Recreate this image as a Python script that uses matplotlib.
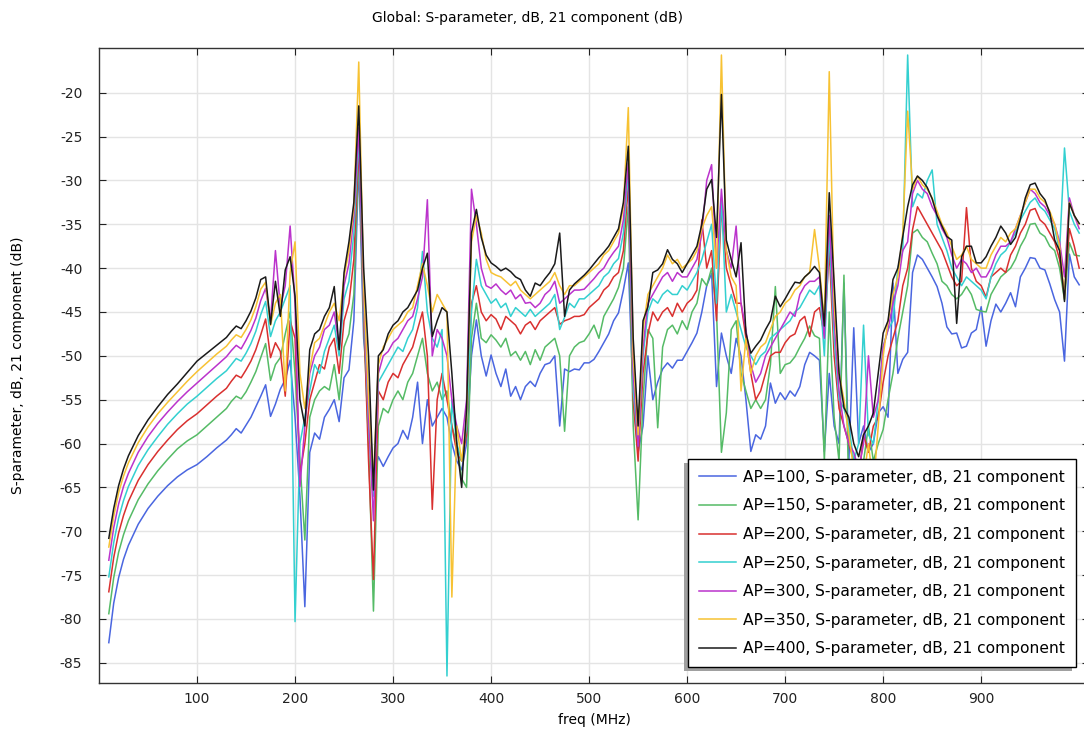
import matplotlib
matplotlib.use("Agg")
import matplotlib.pyplot as plt
from matplotlib.patches import Rectangle

freq_mhz = [10, 15, 20, 25, 30, 40, 50, 60, 70, 80, 90, 100, 110, 120, 130, 135, 140, 145] + list(range(150, 1001, 5))

ap100 = [-82.7, -78.2, -75.3, -73.2, -71.6, -69.2, -67.4, -66.0, -64.8, -63.8, -63.0, -62.4, -61.5, -60.5, -59.6, -59.0, -58.3, -58.8,
         -57.9, -57.0, -55.8, -54.6, -53.3, -56.9, -55.5, -53.8, -52.7, -50.5,
         -57.0, -66.0, -78.6, -61.0, -58.8, -59.5, -57.0, -56.1, -55.0, -57.5,
         -52.5, -51.6, -46.0, -28.0, -48.0, -55.0, -63.9, -61.5, -62.6, -61.5,
         -60.5, -60.0, -58.5, -59.5, -57.0, -53.0, -60.0, -55.0, -58.0, -57.0,
         -56.0, -57.0, -60.0, -62.0, -63.0, -60.0, -50.0, -45.9, -50.0, -52.3,
         -49.9, -52.0, -53.5, -51.5, -54.6, -53.5, -55.0, -53.5, -52.9, -53.5,
         -52.0, -51.0, -50.8, -50.0, -58.0, -51.5, -51.8, -51.5, -51.6, -50.8,
         -50.8, -50.4, -49.5, -48.5, -47.5, -46.0, -45.1, -42.5, -39.4, -55.0,
         -61.0, -58.0, -50.0, -55.0, -53.0, -51.5, -50.8, -51.4, -50.5, -50.5,
         -49.5, -48.5, -47.4, -45.0, -42.0, -40.6, -53.5, -47.4, -50.0, -52.0,
         -48.0, -50.0, -55.0, -60.9, -59.0, -59.5, -58.0, -53.1, -55.4, -54.2,
         -55.0, -54.0, -54.6, -53.5, -51.0, -49.6, -50.0, -50.5, -60.9, -52.0,
         -58.0, -60.0, -41.7, -62.0, -46.8, -60.0, -58.0, -61.0, -60.0, -56.5,
         -55.8, -57.0, -41.7, -52.0, -50.4, -49.6, -40.5, -38.5, -39.0, -40.0,
         -41.0, -42.1, -44.0, -46.7, -47.5, -47.4, -49.1, -48.9, -47.4, -47.0,
         -44.4, -48.9, -46.0, -44.1, -45.0, -44.0, -42.8, -44.4, -41.0, -40.0,
         -38.8, -38.9, -40.0, -40.2, -41.8, -43.6, -45.0, -50.6, -38.4, -41.0,
         -41.9]

ap150 = [-79.4, -75.3, -72.4, -70.4, -68.8, -66.4, -64.6, -63.1, -61.8, -60.6, -59.7, -59.0, -58.0, -57.0, -56.0, -55.2, -54.6, -54.9,
         -54.1, -53.0, -51.8, -50.2, -48.6, -52.8, -51.0, -50.2, -47.5, -45.0,
         -52.0, -62.0, -71.0, -57.0, -55.0, -54.0, -53.5, -53.9, -51.0, -55.0,
         -49.0, -47.5, -43.0, -27.0, -46.0, -60.0, -79.1, -58.0, -56.0, -56.5,
         -55.0, -54.0, -55.0, -53.0, -52.0, -50.0, -48.0, -52.0, -54.0, -53.0,
         -55.0, -54.0, -58.0, -60.0, -64.0, -65.0, -48.0, -44.0, -48.0, -48.5,
         -47.6, -48.2, -49.0, -48.0, -50.0, -49.5, -50.5, -49.5, -51.0, -49.3,
         -50.5, -49.0, -48.5, -48.0, -50.0, -58.6, -50.0, -49.0, -48.5, -48.3,
         -47.5, -46.5, -48.0, -45.5, -44.5, -43.5, -42.2, -40.0, -33.0, -58.0,
         -68.7, -55.0, -47.0, -48.0, -58.2, -49.0, -47.0, -46.5, -47.5, -46.0,
         -47.0, -45.0, -44.0, -41.2, -42.0, -40.0, -45.0, -61.0, -56.5, -47.0,
         -46.0, -52.0, -54.0, -56.0, -55.0, -56.0, -55.0, -51.0, -42.1, -52.0,
         -51.0, -50.8, -50.1, -49.0, -48.0, -46.6, -47.7, -48.0, -62.0, -45.0,
         -57.0, -62.0, -40.8, -66.0, -63.0, -65.0, -62.0, -58.0, -62.0, -60.0,
         -58.4, -55.0, -52.0, -48.0, -45.0, -42.0, -36.0, -35.6, -36.5, -37.0,
         -38.3, -39.5, -41.5, -42.0, -43.0, -43.5, -43.0, -42.1, -43.0, -44.7,
         -44.9, -45.0, -43.0, -42.0, -41.0, -40.5, -40.0, -39.0, -37.5, -36.5,
         -35.0, -34.9, -36.0, -36.4, -37.5, -38.0, -40.0, -43.6, -37.1, -38.5,
         -38.6]

ap200 = [-76.9, -73.0, -70.2, -68.2, -66.6, -64.2, -62.4, -60.9, -59.6, -58.4, -57.4, -56.6, -55.6, -54.6, -53.7, -52.9, -52.2, -52.5,
         -51.6, -50.6, -49.3, -47.6, -45.8, -50.2, -48.5, -49.5, -54.6, -46.0,
         -48.0, -63.5, -60.0, -55.0, -53.0, -51.0, -51.5, -49.0, -48.0, -52.0,
         -46.0, -44.0, -39.0, -26.0, -45.0, -62.0, -75.5, -54.0, -55.0, -53.0,
         -52.0, -52.5, -51.0, -50.0, -49.0, -47.0, -45.0, -50.0, -67.5, -55.0,
         -52.0, -55.0, -58.0, -61.0, -62.0, -59.0, -44.0, -42.0, -45.0, -46.0,
         -45.3, -45.8, -47.0, -45.5, -46.0, -46.5, -47.5, -46.5, -46.1, -47.0,
         -46.0, -45.5, -45.0, -44.5, -46.4, -46.0, -45.8, -45.5, -45.5, -45.3,
         -44.5, -44.0, -43.5, -42.5, -42.0, -41.0, -40.5, -38.0, -30.5, -55.0,
         -62.0, -52.0, -47.5, -45.0, -46.0, -45.0, -44.5, -45.5, -44.0, -45.0,
         -44.0, -43.5, -42.5, -34.5, -40.0, -38.0, -46.0, -33.0, -40.0, -42.0,
         -44.0, -44.0, -48.0, -52.0, -55.0, -54.0, -52.0, -50.0, -49.6, -49.6,
         -48.5, -47.8, -47.5, -46.0, -45.5, -47.8, -45.0, -44.5, -47.8, -37.9,
         -50.0, -56.0, -58.0, -60.0, -62.0, -64.0, -59.0, -61.0, -58.0, -57.0,
         -53.0, -50.0, -48.0, -46.0, -42.0, -40.0, -35.6, -33.0, -34.0, -35.0,
         -36.0, -37.0, -38.0, -39.5, -41.0, -42.0, -41.5, -33.1, -40.0, -41.5,
         -42.0, -43.3, -41.0, -40.5, -40.0, -40.5, -38.5, -37.5, -36.0, -35.0,
         -33.4, -33.2, -34.5, -35.0, -36.0, -37.0, -39.0, -43.0, -35.5, -37.5,
         -40.0]

ap250 = [-75.2, -71.3, -68.5, -66.5, -64.9, -62.5, -60.7, -59.2, -57.8, -56.6, -55.5, -54.6, -53.6, -52.6, -51.7, -51.0, -50.3, -50.6,
         -49.7, -48.6, -47.2, -45.3, -43.8, -47.8, -46.0, -45.0, -43.5, -42.0,
         -80.3, -60.0, -57.0, -54.0, -51.0, -52.0, -49.5, -48.0, -46.5, -50.0,
         -43.5, -41.5, -36.0, -25.0, -44.0, -58.0, -66.0, -53.0, -52.0, -51.0,
         -50.0, -49.0, -49.5, -48.0, -47.0, -44.5, -38.1, -45.0, -48.0, -49.0,
         -47.0, -86.5, -55.0, -60.0, -62.0, -58.0, -45.0, -39.0, -42.0, -43.0,
         -44.0, -43.5, -44.5, -44.0, -45.5, -44.5, -45.0, -45.5, -44.7, -45.5,
         -45.0, -44.5, -44.0, -43.0, -47.0, -45.6, -44.0, -44.5, -43.5, -43.5,
         -43.0, -42.5, -42.0, -41.0, -40.5, -39.5, -38.9, -36.0, -29.0, -54.0,
         -60.0, -50.0, -45.0, -43.5, -44.0, -43.0, -42.5, -43.0, -43.0, -42.0,
         -42.5, -41.5, -40.5, -39.0, -37.0, -35.0, -44.0, -32.0, -45.0, -43.0,
         -45.0, -47.0, -49.0, -50.0, -51.0, -50.0, -49.5, -48.0, -47.5, -47.0,
         -46.5, -46.0, -45.0, -44.5, -43.5, -42.5, -43.0, -42.0, -50.0, -36.0,
         -48.0, -55.0, -56.0, -58.0, -62.0, -60.0, -46.5, -59.0, -60.0, -55.0,
         -49.0, -47.0, -46.0, -40.0, -38.0, -15.7, -33.0, -31.5, -32.0, -30.0,
         -28.8, -35.0, -36.5, -38.0, -40.0, -41.0, -42.0, -41.0, -41.5, -42.0,
         -42.5, -43.5, -41.0, -39.5, -38.5, -38.0, -37.0, -36.0, -34.5, -33.5,
         -32.5, -32.0, -33.0, -33.5, -34.5, -35.5, -38.0, -26.3, -33.5, -35.0,
         -36.0]

ap300 = [-73.3, -69.6, -66.9, -64.9, -63.4, -61.0, -59.2, -57.7, -56.4, -55.2, -54.1, -53.1, -52.1, -51.1, -50.1, -49.4, -48.8, -49.2,
         -48.2, -47.1, -45.7, -43.7, -42.3, -46.0, -38.0, -44.5, -42.0, -35.2,
         -44.0, -64.9, -58.0, -52.0, -50.0, -49.0, -47.0, -46.5, -45.0, -49.0,
         -42.0, -39.5, -34.0, -24.0, -43.0, -57.0, -68.8, -52.0, -50.0, -49.5,
         -48.5, -48.0, -47.0, -46.0, -45.5, -43.5, -41.0, -32.2, -50.0, -47.0,
         -48.0, -50.0, -55.0, -58.0, -60.0, -55.0, -31.0, -35.0, -40.0, -42.0,
         -42.3, -41.8, -42.5, -43.0, -42.5, -43.5, -43.0, -44.0, -43.9, -44.5,
         -44.0, -43.0, -42.5, -41.5, -44.0, -43.5, -43.0, -42.5, -42.5, -42.4,
         -41.8, -41.2, -40.5, -40.0, -39.0, -38.2, -37.5, -34.5, -28.0, -52.0,
         -60.3, -49.0, -44.0, -43.0, -42.0, -41.0, -40.5, -41.5, -40.5, -41.0,
         -41.0, -40.0, -39.0, -36.0, -30.0, -28.2, -40.0, -31.0, -38.0, -40.0,
         -35.2, -44.0, -47.0, -51.0, -53.0, -52.0, -50.0, -49.0, -48.0, -47.0,
         -46.0, -45.0, -45.5, -43.0, -42.0, -41.5, -41.5, -41.0, -48.0, -34.0,
         -46.0, -54.0, -58.0, -60.0, -61.0, -63.0, -60.0, -50.0, -57.0, -55.0,
         -49.0, -47.0, -44.0, -42.0, -38.0, -37.0, -31.5, -30.0, -31.0, -31.5,
         -33.0, -34.0, -35.5, -36.5, -38.5, -40.0, -39.0, -39.5, -40.5, -40.0,
         -41.0, -41.0, -40.0, -38.5, -37.5, -37.5, -37.0, -35.5, -34.0, -32.5,
         -31.0, -31.5, -32.5, -33.0, -34.0, -35.0, -37.0, -41.0, -32.0, -34.0,
         -35.5]

ap350 = [-71.8, -68.3, -65.6, -63.7, -62.2, -59.9, -58.1, -56.6, -55.3, -54.1, -52.9, -51.8, -50.8, -49.8, -48.9, -48.2, -47.6, -47.9,
         -47.0, -45.9, -44.4, -42.4, -41.6, -46.5, -44.0, -43.0, -54.0, -40.5,
         -37.0, -52.0, -56.0, -51.5, -48.5, -48.0, -46.5, -45.0, -44.0, -46.0,
         -41.0, -38.0, -33.0, -16.5, -42.0, -55.0, -64.0, -51.0, -49.0, -48.0,
         -47.0, -46.5, -46.0, -45.0, -44.5, -42.0, -39.5, -42.0, -45.0, -43.0,
         -44.0, -45.0, -77.5, -58.0, -62.0, -57.0, -37.0, -34.0, -36.0, -39.0,
         -40.5, -40.8, -41.0, -41.5, -42.0, -41.5, -42.5, -43.0, -43.5, -43.0,
         -42.5, -42.0, -41.5, -40.5, -42.0, -43.0, -42.0, -42.0, -41.5, -41.0,
         -40.5, -40.0, -39.5, -38.5, -38.0, -37.0, -36.0, -33.0, -21.7, -50.0,
         -59.0, -47.0, -43.0, -42.0, -41.0, -40.0, -38.5, -39.5, -39.0, -40.0,
         -39.5, -39.0, -38.0, -35.5, -34.0, -33.0, -40.0, -15.7, -38.0, -41.0,
         -42.0, -54.0, -48.0, -52.0, -50.0, -49.0, -48.5, -47.0, -45.5, -45.0,
         -44.0, -43.5, -42.5, -42.0, -41.0, -40.5, -35.6, -40.0, -46.0, -17.6,
         -44.0, -52.0, -55.0, -59.0, -63.0, -62.0, -64.0, -60.0, -65.0, -58.0,
         -50.0, -46.0, -43.0, -41.0, -36.0, -22.1, -31.0, -29.5, -30.5, -31.0,
         -32.0, -33.5, -35.0, -36.0, -37.5, -39.0, -38.5, -37.5, -39.0, -39.5,
         -40.0, -40.0, -38.5, -37.5, -36.5, -37.0, -36.0, -35.5, -34.0, -32.5,
         -31.0, -31.0, -32.0, -32.5, -33.5, -35.0, -37.5, -43.5, -32.5, -34.0,
         -35.0]

ap400 = [-70.8, -67.4, -64.8, -62.9, -61.4, -59.1, -57.3, -55.8, -54.4, -53.2, -51.9, -50.6, -49.7, -48.8, -47.9, -47.2, -46.6, -46.9,
         -46.0, -44.9, -43.4, -41.3, -41.0, -46.4, -41.5, -45.5, -40.2, -38.7,
         -43.2, -55.0, -58.0, -49.3, -47.5, -47.0, -45.5, -44.5, -42.1, -49.3,
         -40.5, -37.0, -32.5, -21.5, -40.0, -50.0, -65.3, -50.0, -49.3, -47.5,
         -46.5, -46.0, -45.0, -44.5, -43.5, -42.5, -40.0, -38.3, -47.8, -46.0,
         -44.5, -45.0, -52.0, -60.0, -65.0, -56.0, -36.0, -33.3, -36.5, -38.5,
         -39.4, -39.8, -40.3, -40.0, -40.4, -41.0, -41.3, -42.5, -43.2, -41.7,
         -42.0, -41.2, -40.5, -39.5, -36.0, -45.5, -42.5, -41.8, -41.3, -40.8,
         -40.2, -39.5, -38.8, -38.2, -37.5, -36.5, -35.5, -32.5, -26.1, -48.0,
         -58.0, -46.0, -44.4, -40.5, -40.2, -39.5, -37.9, -39.0, -39.5, -40.5,
         -39.5, -38.5, -37.5, -35.0, -31.0, -29.9, -36.5, -20.2, -36.8, -39.0,
         -41.0, -37.1, -47.4, -49.7, -48.9, -48.2, -47.0, -46.0, -43.2, -44.4,
         -43.5, -42.5, -41.6, -41.7, -41.0, -40.5, -39.8, -40.5, -46.6, -31.4,
         -41.8, -52.0, -55.9, -57.0, -60.0, -61.5, -59.0, -58.0, -56.5, -52.0,
         -47.4, -46.0, -41.3, -40.0, -36.4, -33.0, -30.5, -29.5, -30.0, -30.8,
         -32.1, -34.0, -35.2, -36.4, -36.8, -46.3, -38.7, -37.5, -37.5, -39.4,
         -39.4, -38.7, -37.5, -36.5, -35.2, -36.0, -37.3, -36.5, -34.4, -32.0,
         -30.5, -30.3, -31.5, -32.2, -33.7, -36.8, -38.0, -43.8, -32.6, -34.0,
         -34.9]

ap_values = [100, 150, 200, 250, 300, 350, 400]
series_colors = ["#4a66e0", "#55bb66", "#d9302f", "#33d0d0", "#bb33cc", "#f7c233", "#1a1a1a"]
title_text = "Global: S-parameter, dB, 21 component (dB)"
xlabel_text = "freq (MHz)"
ylabel_text = "S-parameter, dB, 21 component (dB)"
x_ticks = [100, 200, 300, 400, 500, 600, 700, 800, 900]
y_ticks = [-85, -80, -75, -70, -65, -60, -55, -50, -45, -40, -35, -30, -25, -20]

all_series = [ap100, ap150, ap200, ap250, ap300, ap350, ap400]
for s in all_series:
    assert len(s) == len(freq_mhz), (len(s), len(freq_mhz))

plt.rcParams['font.family'] = ['DejaVu Sans']
fig = plt.figure(figsize=(10.84, 7.30), dpi=100)
W, H = 1084, 730
x0_px, x1_px = 99, 1089
y0_px, y1_px = 48, 683
ax = fig.add_axes([x0_px / W, 1 - y1_px / H, (x1_px - x0_px) / W, (y1_px - y0_px) / H])

for ap, vals, col in zip(ap_values, all_series, series_colors):
    ax.plot(freq_mhz, vals, color=col, lw=1.1,
            label="AP=%d, S-parameter, dB, 21 component" % ap)

ax.set_xlim(0, 1010)
ax.set_ylim(-87.3, -14.9)
ax.set_xticks(x_ticks)
ax.set_yticks(y_ticks)
ax.set_yticklabels([str(v) for v in y_ticks])
ax.grid(True, color="#e4e4e4", lw=1.0)
ax.set_axisbelow(True)
ax.tick_params(direction="in", top=True, right=True, length=5, labelsize=10, colors="#222222")
ax.tick_params(axis="x", pad=6.5)
ax.tick_params(axis="y", pad=12)
for sp in ax.spines.values():
    sp.set_color("#333333")
    sp.set_linewidth(1.0)

fig.text(527 / W, 1 - 18 / H, title_text, ha="center", va="center", fontsize=10)
ax.set_xlabel(xlabel_text, fontsize=10, labelpad=5)
fig.text(18 / W, 1 - 365 / H, ylabel_text, rotation=90, ha="center", va="center", fontsize=10)

ax_w_px = x1_px - x0_px
leg = ax.legend(loc="lower right",
                bbox_to_anchor=((1076 - x0_px) / ax_w_px, (683 - 667) / (y1_px - y0_px)),
                fontsize=11.2, frameon=True, fancybox=False, shadow=False,
                edgecolor="black", framealpha=1.0, labelspacing=0.87,
                handlelength=2.4, handletextpad=0.45, borderpad=0.7, borderaxespad=0.0)
leg.get_frame().set_linewidth(1.0)
leg.set_zorder(5)

# legend shadow offset to the lower left, sized from the drawn legend box
fig.canvas.draw()
bb = leg.get_window_extent()
shadow = Rectangle((bb.x0 - 4, bb.y0 - 4), bb.width, bb.height,
                   transform=None, facecolor="#a0a0a0", edgecolor="none",
                   zorder=4.5, clip_on=False)
ax.add_patch(shadow)

fig.savefig("out.png", dpi=100)
